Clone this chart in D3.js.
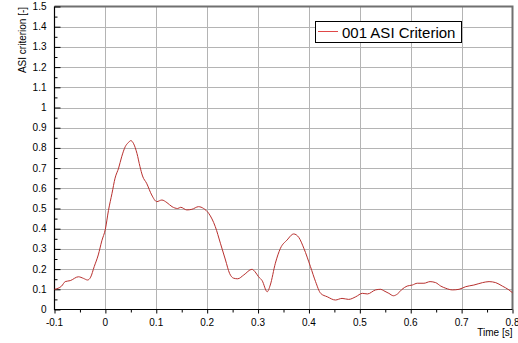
<!DOCTYPE html>
<html>
<head>
<meta charset="utf-8">
<script src="https://cdn.jsdelivr.net/npm/d3@7"></script>
<style>
  html, body { margin: 0; padding: 0; background: #fff; }
  svg { display: block; font-family: "Liberation Sans", Arial, sans-serif; }
</style>
</head>
<body>
<svg id="chart" width="518" height="343"></svg>
<script>
// ASI criterion time history
const timeS = [
  -0.100, -0.086, -0.079, -0.069, -0.053, -0.043, -0.035, -0.029, -0.022, -0.014,
  -0.007, 0.000, 0.006, 0.013, 0.019, 0.026, 0.032, 0.039, 0.045, 0.050,
  0.055, 0.062, 0.068, 0.073, 0.081, 0.091, 0.101, 0.111, 0.121, 0.131,
  0.142, 0.148, 0.160, 0.170, 0.183, 0.193, 0.203, 0.216, 0.226, 0.236,
  0.244, 0.252, 0.260, 0.272, 0.288, 0.294, 0.301, 0.308, 0.318, 0.324,
  0.334, 0.344, 0.357, 0.370, 0.380, 0.390, 0.403, 0.413, 0.423, 0.436,
  0.452, 0.465, 0.478, 0.492, 0.505, 0.515, 0.531, 0.541, 0.547, 0.557,
  0.566, 0.574, 0.583, 0.593, 0.603, 0.613, 0.626, 0.638, 0.649, 0.659,
  0.669, 0.682, 0.695, 0.708, 0.724, 0.741, 0.754, 0.767, 0.780, 0.793,
  0.800
];
const asiValues = [
  0.100, 0.116, 0.138, 0.143, 0.162, 0.154, 0.146, 0.160, 0.212, 0.270,
  0.340, 0.398, 0.490, 0.575, 0.650, 0.700, 0.756, 0.806, 0.826, 0.836,
  0.823, 0.773, 0.707, 0.661, 0.625, 0.567, 0.534, 0.542, 0.529, 0.509,
  0.500, 0.506, 0.493, 0.496, 0.509, 0.500, 0.476, 0.410, 0.328, 0.245,
  0.179, 0.155, 0.152, 0.171, 0.199, 0.187, 0.162, 0.143, 0.088, 0.121,
  0.229, 0.303, 0.344, 0.374, 0.357, 0.303, 0.212, 0.138, 0.080, 0.063,
  0.047, 0.055, 0.050, 0.063, 0.080, 0.077, 0.097, 0.100, 0.093, 0.080,
  0.068, 0.077, 0.100, 0.116, 0.121, 0.130, 0.130, 0.138, 0.133, 0.116,
  0.105, 0.097, 0.100, 0.113, 0.121, 0.133, 0.138, 0.133, 0.116, 0.097,
  0.083
];
const xTicks = [-0.1, 0, 0.1, 0.2, 0.3, 0.4, 0.5, 0.6, 0.7, 0.8];
const xTickLabels = ["-0.1", "0", "0.1", "0.2", "0.3", "0.4", "0.5", "0.6", "0.7", "0.8"];
const yTicks = [0, 0.1, 0.2, 0.3, 0.4, 0.5, 0.6, 0.7, 0.8, 0.9, 1, 1.1, 1.2, 1.3, 1.4, 1.5];
const yTickLabels = ["0", "0.1", "0.2", "0.3", "0.4", "0.5", "0.6", "0.7", "0.8", "0.9", "1", "1.1", "1.2", "1.3", "1.4", "1.5"];
const seriesName = "001 ASI Criterion";

const svg = d3.select("#chart");
const plotL = 54.5, plotR = 512.5, plotT = 6.5, plotB = 309.5;
const lineColor = "#b8302e";

const x = d3.scaleLinear().domain([-0.1, 0.8]).range([plotL, plotR]);
const y = d3.scaleLinear().domain([0, 1.5]).range([plotB, plotT]);

// grid
const grid = svg.append("g").attr("stroke", "#b4b4b4").attr("stroke-width", 1);
grid.selectAll("line.v").data(xTicks.slice(1, -1)).join("line")
  .attr("x1", d => Math.round(x(d)) + 0.5).attr("x2", d => Math.round(x(d)) + 0.5)
  .attr("y1", plotT).attr("y2", plotB);
grid.selectAll("line.h").data(yTicks.slice(1, -1)).join("line")
  .attr("y1", d => Math.round(y(d)) + 0.5).attr("y2", d => Math.round(y(d)) + 0.5)
  .attr("x1", plotL).attr("x2", plotR);

// top and right frame
svg.append("path")
  .attr("d", `M${plotL},${plotT}H${plotR}V${plotB}`)
  .attr("fill", "none").attr("stroke", "#707070").attr("stroke-width", 2);

// y axis: ticks point into the plot
const yMinor = d3.range(0.05, 1.5, 0.1);
const yAxis = svg.append("g").attr("transform", `translate(${plotL},0)`);
yAxis.call(d3.axisRight(y).tickValues(yTicks).tickSize(6).tickFormat(""));
yAxis.append("g").call(d3.axisRight(y).tickValues(yMinor).tickSize(3).tickFormat(""));
yAxis.selectAll(".domain").remove();
yAxis.selectAll("line").attr("stroke", "#000");
svg.append("g").selectAll("text").data(yTicks).join("text")
  .attr("x", plotL - 8).attr("y", d => y(d) + 3.5)
  .attr("text-anchor", "end").attr("font-size", 10).attr("fill", "#000")
  .text((d, i) => yTickLabels[i]);

// x axis: ticks point outward
const xMinor = d3.range(-0.05, 0.8, 0.1);
const xAxis = svg.append("g").attr("transform", `translate(0,${plotB})`);
xAxis.call(d3.axisBottom(x).tickValues(xTicks).tickSize(4).tickFormat(""));
xAxis.append("g").call(d3.axisBottom(x).tickValues(xMinor).tickSize(3).tickFormat(""));
xAxis.selectAll(".domain").remove();
xAxis.selectAll("line").attr("stroke", "#000");
svg.append("g").selectAll("text").data(xTicks).join("text")
  .attr("x", d => x(d)).attr("y", plotB + 16)
  .attr("text-anchor", "middle").attr("font-size", 10).attr("fill", "#000")
  .text((d, i) => xTickLabels[i]);

// left and bottom axis lines
svg.append("path")
  .attr("d", `M${plotL},${plotT}V${plotB}H${plotR}`)
  .attr("fill", "none").attr("stroke", "#000").attr("stroke-width", 1.2);

// axis titles
svg.append("text")
  .attr("x", plotR).attr("y", 336).attr("text-anchor", "end")
  .attr("font-size", 10).text("Time [s]");
svg.append("text")
  .attr("transform", "translate(26,40) rotate(-90)").attr("text-anchor", "middle")
  .attr("font-size", 10).text("ASI criterion [-]");

// curve
const pts = timeS.map((t, i) => [t, asiValues[i]]);
svg.append("path")
  .datum(pts)
  .attr("fill", "none").attr("stroke", lineColor).attr("stroke-width", 1)
  .attr("d", d3.line().x(d => x(d[0])).y(d => y(d[1])).curve(d3.curveMonotoneX));

// legend
const lg = svg.append("g");
lg.append("rect").attr("x", 315.5).attr("y", 21.5).attr("width", 146).attr("height", 21)
  .attr("fill", "#fff").attr("stroke", "#000").attr("stroke-width", 1);
lg.append("line").attr("x1", 318).attr("x2", 338).attr("y1", 31.5).attr("y2", 31.5)
  .attr("stroke", "#e04848").attr("stroke-width", 1);
lg.append("text").attr("x", 342).attr("y", 37.5).attr("font-size", 15).text(seriesName);
</script>
</body>
</html>
